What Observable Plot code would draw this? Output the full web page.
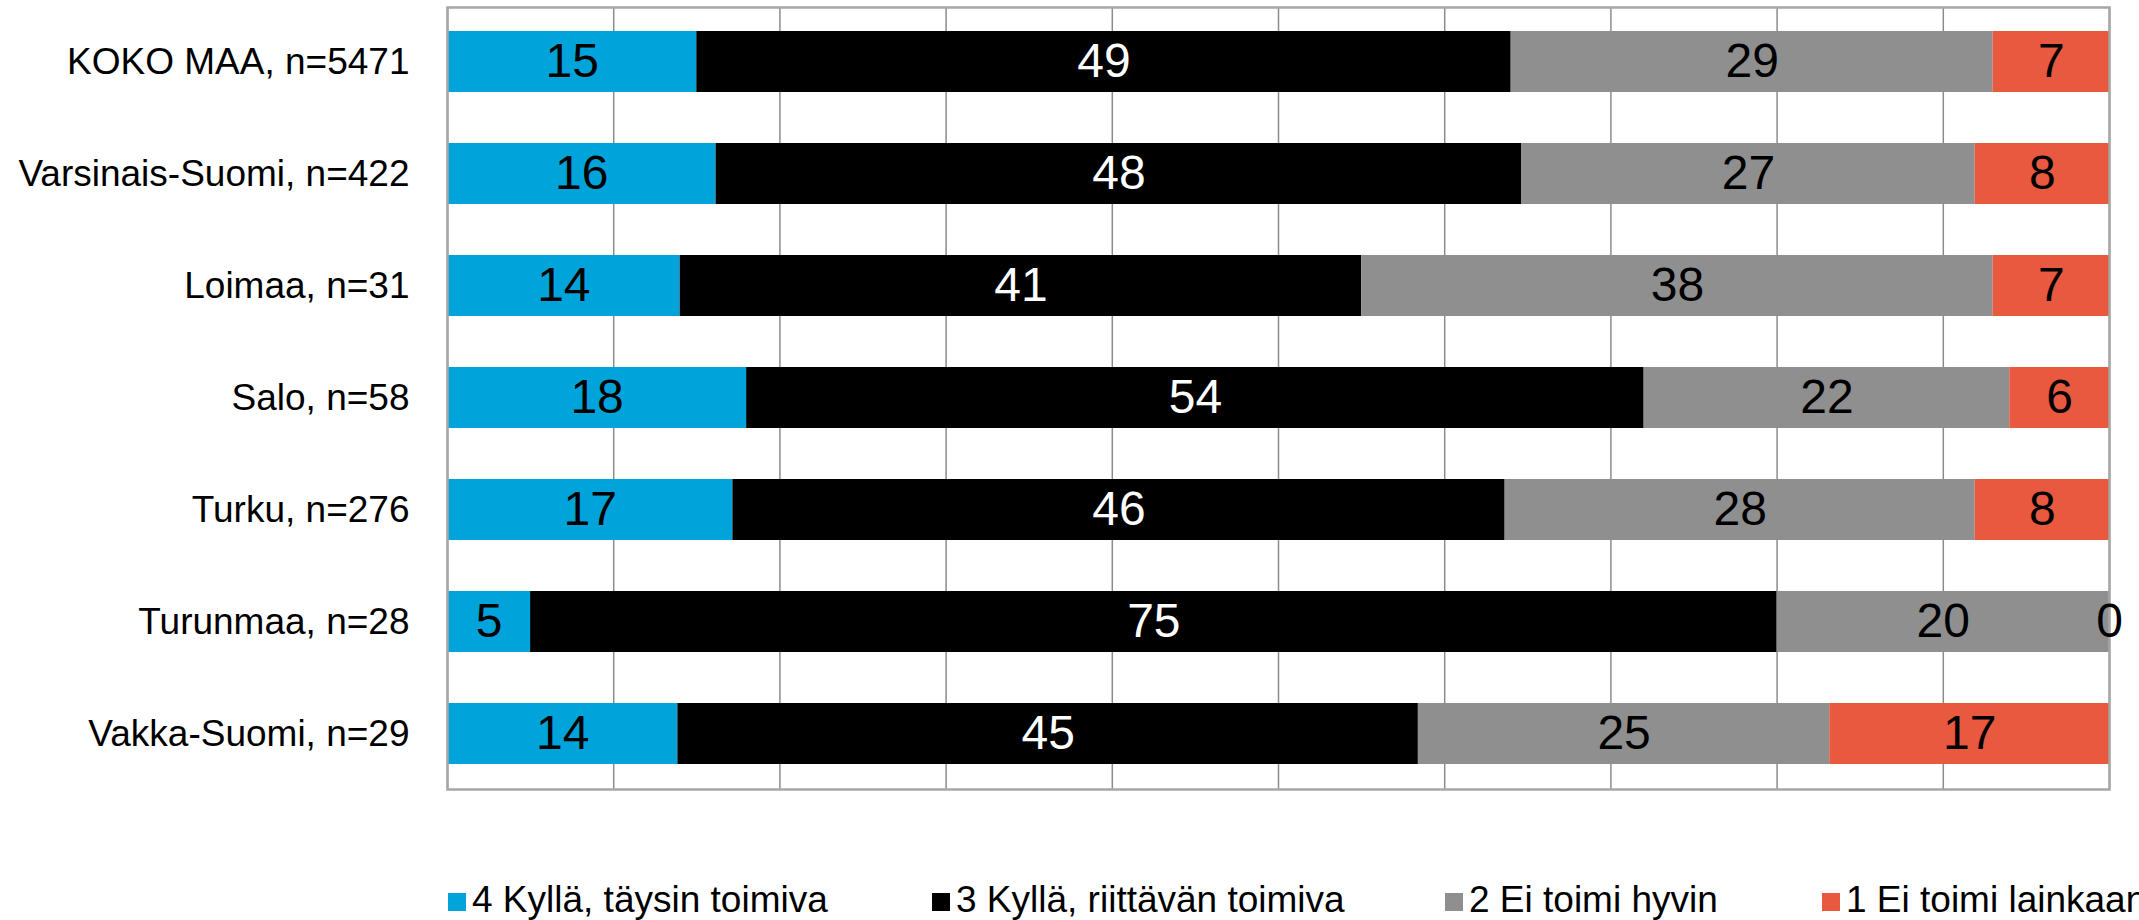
<!DOCTYPE html>
<html>
<head>
<meta charset="utf-8">
<script src="https://cdn.jsdelivr.net/npm/d3@7"></script>
<script src="https://cdn.jsdelivr.net/npm/@observablehq/plot@0.6"></script>
<style>
  html, body { margin: 0; padding: 0; background: #fff; overflow: hidden; }
  #wrap { position: relative; width: 2139px; height: 920px; font-family: "Liberation Sans", Arial, sans-serif; }
  #legend { position: absolute; left: 0; top: 880px; width: 2139px; height: 40px; }
  .item { position: absolute; top: 0; white-space: nowrap; font-size: 37px; line-height: 40px; color: #000; }
  .sw { display: inline-block; width: 18px; height: 18px; margin-right: 6px; vertical-align: 1px; }
</style>
</head>
<body>
<div id="wrap">
  <div id="chart"></div>
  <div id="legend"></div>
</div>
<script>
const regions = ["KOKO MAA, n=5471", "Varsinais-Suomi, n=422", "Loimaa, n=31", "Salo, n=58", "Turku, n=276", "Turunmaa, n=28", "Vakka-Suomi, n=29"];
const categories = ["4 Kyllä, täysin toimiva", "3 Kyllä, riittävän toimiva", "2 Ei toimi hyvin", "1 Ei toimi lainkaan"];
const colors = ["#00a3da", "#000000", "#8f8f8f", "#e8593f"];
const valTaysin   = [15, 16, 14, 18, 17, 5, 14];
const valRiittava = [49, 48, 41, 54, 46, 75, 45];
const valEiHyvin  = [29, 27, 38, 22, 28, 20, 25];
const valEiLainkaan = [7, 8, 7, 6, 8, 0, 17];
const gridTicks = [0, 0.1, 0.2, 0.3, 0.4, 0.5, 0.6, 0.7, 0.8, 0.9, 1];

const series = [valTaysin, valRiittava, valEiHyvin, valEiLainkaan];
const data = [];
regions.forEach((r, i) => {
  categories.forEach((c, j) => data.push({region: r, category: c, value: series[j][i]}));
});

const chart = Plot.plot({
  width: 2139,
  height: 800,
  marginLeft: 447,
  marginRight: 30,
  marginTop: 7,
  marginBottom: 11,
  style: {fontFamily: "'Liberation Sans', Arial, sans-serif", background: "#fff"},
  x: {domain: [0, 1], axis: null},
  y: {domain: regions, paddingInner: 0.451, paddingOuter: 0.2165, label: null},
  color: {domain: categories, range: colors},
  marks: [
    Plot.gridX(gridTicks, {stroke: "#8c8c8c", strokeOpacity: 1, strokeWidth: 1.5}),
    Plot.barX(data, Plot.stackX({x: "value", y: "region", fill: "category", z: "category", order: null, offset: "normalize"})),
    Plot.frame({stroke: "#a6a6a6", strokeWidth: 2.5}),
    Plot.textX(data, Plot.stackX({
      x: "value", y: "region", z: "category", order: null, offset: "normalize",
      text: d => String(d.value),
      fill: d => d.category === categories[1] ? "#ffffff" : "#000000",
      fontSize: 48
    })),
    Plot.axisY({tickSize: 0, tickPadding: 38, fontSize: 37, label: null, textAnchor: "end", fill: "#000"})
  ]
});
document.getElementById("chart").appendChild(chart);

const legendLeft = [448, 932, 1445, 1822];
const legend = document.getElementById("legend");
categories.forEach((c, i) => {
  const it = document.createElement("div");
  it.className = "item";
  it.style.left = legendLeft[i] + "px";
  const sw = document.createElement("span");
  sw.className = "sw";
  sw.style.background = colors[i];
  it.appendChild(sw);
  it.appendChild(document.createTextNode(c));
  legend.appendChild(it);
});
</script>
</body>
</html>
